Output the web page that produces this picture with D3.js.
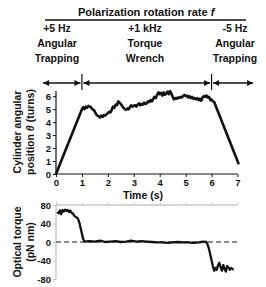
<!DOCTYPE html>
<html>
<head>
<meta charset="utf-8">
<script src="https://cdn.jsdelivr.net/npm/d3@7"></script>
<style>
  body { margin: 0; background: #fff; }
  text { font-family: "Liberation Sans", Arial, sans-serif; font-weight: bold; fill: #111; }
</style>
</head>
<body>
<svg id="chart" width="266" height="287"></svg>
<script>
// angular position trace (time s, turns)
const thetaTime = [0, 1.0, 1.05, 1.1, 1.15, 1.2, 1.25, 1.3, 1.35, 1.4, 1.45, 1.5, 1.55, 1.6, 1.65, 1.7, 1.75, 1.8, 1.85, 1.9, 1.95,
  2.0, 2.05, 2.1, 2.15, 2.2, 2.25, 2.3, 2.35, 2.4, 2.45, 2.5, 2.55, 2.6, 2.65, 2.7, 2.75, 2.8, 2.85, 2.9, 2.95,
  3.0, 3.05, 3.1, 3.15, 3.2, 3.25, 3.3, 3.35, 3.4, 3.45, 3.5, 3.55, 3.6, 3.65, 3.7, 3.75, 3.8, 3.85, 3.9, 3.95,
  4.0, 4.05, 4.1, 4.15, 4.2, 4.25, 4.3, 4.35, 4.4, 4.45, 4.5, 4.55, 4.6, 4.65, 4.7, 4.75, 4.8, 4.85, 4.9, 4.95,
  5.0, 5.05, 5.1, 5.15, 5.2, 5.25, 5.3, 5.35, 5.4, 5.45, 5.5, 5.55, 5.6, 5.65, 5.7, 5.75, 5.8, 5.85, 5.9, 5.95,
  6.0, 6.05, 6.1, 7.05];
const thetaTurns = [0, 5.0, 5.15, 5.0, 5.2, 5.1, 5.25, 5.2, 5.15, 5.0, 4.95, 4.8, 4.6, 4.5, 4.45, 4.35, 4.5, 4.4, 4.55, 4.5, 4.6,
  4.7, 4.8, 4.75, 4.95, 5.2, 5.1, 5.35, 5.3, 5.6, 5.5, 5.4, 5.25, 5.1, 5.0, 4.95, 5.05, 5.0, 5.15, 5.3, 5.2,
  5.25, 5.3, 5.2, 5.35, 5.45, 5.3, 5.4, 5.35, 5.5, 5.4, 5.45, 5.6, 5.55, 5.7, 5.6, 5.8, 5.95, 5.85, 6.1, 6.3,
  6.15, 6.25, 6.05, 6.3, 6.1, 6.2, 6.35, 6.15, 6.4, 6.2, 5.95, 5.75, 5.85, 5.8, 5.9, 5.85, 5.95, 5.9, 6.0, 6.1,
  6.0, 6.05, 5.9, 6.0, 5.85, 5.95, 5.8, 5.85, 5.75, 5.85, 5.7, 5.8, 5.65, 5.9, 6.0, 5.95, 6.05, 5.9, 5.95, 5.7,
  5.75, 5.6, 5.55, 0.75];

// optical torque trace (time s, pN nm)
const torqueTime = [0.05, 0.1, 0.15, 0.2, 0.25, 0.3, 0.35, 0.4, 0.45, 0.5, 0.55, 0.6, 0.65, 0.7, 0.75, 0.8, 0.85, 0.9, 0.95, 1.0, 1.05, 1.1,
  1.3, 1.5, 1.7, 1.9, 2.1, 2.3, 2.5, 2.7, 2.9, 3.1, 3.3, 3.5, 3.7, 3.9, 4.1, 4.3, 4.5, 4.7, 4.9, 5.1, 5.3, 5.5, 5.6, 5.7, 5.8,
  5.85, 5.9, 5.95, 6.0, 6.05, 6.1, 6.15, 6.2, 6.25, 6.3, 6.35, 6.4, 6.45, 6.5, 6.55, 6.6, 6.65, 6.7, 6.75, 6.8, 6.85];
const torqueValue = [65, 62, 68, 60, 69, 66, 70, 67, 69, 65, 68, 63, 62, 57, 55, 53, 50, 42, 30, 18, 6, 1,
  2, 1, 3, 0, 1, 2, 0, 1, 3, 1, 2, 1, 0, -1, -1, -2, -1, 0, -1, -1, -2, -1, 0, 1, 0,
  -6, -15, -27, -40, -52, -62, -56, -60, -50, -45, -55, -62, -50, -58, -64, -52, -55, -60, -56, -58, -60];

const tTicks = [0, 1, 2, 3, 4, 5, 6, 7];
const thetaTicks = [0, 1, 2, 3, 4, 5, 6];
const torqueTicks = [80, 40, 0, -40, -80];
const phases = [
  { rate: "+5 Hz", lines: ["Angular", "Trapping"], from: -0.5, to: 1 },
  { rate: "+1 kHz", lines: ["Torque", "Wrench"], from: 1, to: 6 },
  { rate: "-5 Hz", lines: ["Angular", "Trapping"], from: 6, to: 7.6 }
];

const svg = d3.select("#chart");

const x = d3.scaleLinear().domain([0, 7]).range([56, 237.5]);
const yTheta = d3.scaleLinear().domain([0, 6.4]).range([174, 91]);
const yTorque = d3.scaleLinear().domain([-80, 80]).range([279, 205]);
const fmt = d => String(d);

// header
const title = svg.append("text").attr("x", 78).attr("y", 16)
  .style("font-size", "11px");
title.append("tspan").text("Polarization rotation rate ");
title.append("tspan").style("font-style", "italic").text("f");
svg.append("line").attr("x1", 45).attr("x2", 246).attr("y1", 20).attr("y2", 20)
  .attr("stroke", "#111").attr("stroke-width", 1.4);

svg.append("defs").append("marker")
  .attr("id", "head").attr("viewBox", "0 0 10 10").attr("refX", 10).attr("refY", 5)
  .attr("markerWidth", 7).attr("markerHeight", 6).attr("markerUnits", "userSpaceOnUse")
  .attr("orient", "auto-start-reverse")
  .append("path").attr("d", "M0,0L10,5L0,10Z").attr("fill", "#111");

const labelX = [57, 145, 235];
phases.forEach((p, i) => {
  svg.append("text").attr("x", labelX[i]).attr("y", 32).attr("text-anchor", "middle")
    .style("font-size", "10.5px").text(p.rate);
  p.lines.forEach((l, j) => {
    svg.append("text").attr("x", labelX[i]).attr("y", 47 + j * 14.5).attr("text-anchor", "middle")
      .style("font-size", "10.5px").text(l);
  });
  const x1 = x(p.from) + (i > 0 ? 1.5 : 0), x2 = x(p.to) - (i < 2 ? 1.5 : 0);
  svg.append("line").attr("x1", x1).attr("x2", x2).attr("y1", 83).attr("y2", 83)
    .attr("stroke", "#111").attr("stroke-width", 1.3)
    .attr("marker-start", "url(#head)").attr("marker-end", "url(#head)");
});
[1, 6].forEach(t => {
  svg.append("line").attr("x1", x(t)).attr("x2", x(t)).attr("y1", 74).attr("y2", 90)
    .attr("stroke", "#111").attr("stroke-width", 1.2);
});

// top panel
const gx = svg.append("g").attr("transform", "translate(0,174)")
  .call(d3.axisBottom(x).tickValues(tTicks).tickFormat(fmt).tickSize(3).tickPadding(2));
const gy = svg.append("g").attr("transform", "translate(56,0)")
  .call(d3.axisLeft(yTheta).tickValues(thetaTicks).tickFormat(fmt).tickSize(3).tickPadding(2));
[gx, gy].forEach(g => {
  g.select(".domain").attr("stroke", "#111").attr("stroke-width", 1.2);
  g.selectAll(".tick line").attr("stroke", "#111");
  g.selectAll("text").style("font-size", "9.5px").style("font-family", "Liberation Sans, Arial, sans-serif").attr("fill", "#111");
});
gx.select(".domain").attr("d", "M56,0H237.5");
gy.select(".domain").attr("d", "M0,174V91");

svg.append("path")
  .datum(thetaTime.map((t, i) => [t, thetaTurns[i]]))
  .attr("fill", "none").attr("stroke", "#111").attr("stroke-width", 2.6).attr("stroke-linejoin", "round")
  .attr("d", d3.line().x(d => x(d[0])).y(d => yTheta(d[1])));

svg.append("text").attr("x", 143).attr("y", 199).attr("text-anchor", "middle")
  .style("font-size", "10.5px").text("Time (s)");
svg.append("text").attr("transform", "translate(21,132) rotate(-90)").attr("text-anchor", "middle")
  .style("font-size", "10.5px").text("Cylinder angular");
const pos = svg.append("text").attr("transform", "translate(34,132) rotate(-90)").attr("text-anchor", "middle")
  .style("font-size", "10.5px");
pos.append("tspan").text("position ");
pos.append("tspan").style("font-style", "italic").text("θ");
pos.append("tspan").text(" (turns)");

// bottom panel
const bx = svg.append("g").attr("transform", "translate(0,205)")
  .call(d3.axisTop(x).tickValues(tTicks).tickSize(3).tickFormat(""));
const by = svg.append("g").attr("transform", "translate(56,0)")
  .call(d3.axisLeft(yTorque).tickValues(torqueTicks).tickFormat(fmt).tickSize(3).tickPadding(2));
[bx, by].forEach(g => {
  g.select(".domain").attr("stroke", "#c8c8c8").attr("stroke-width", 1.4);
  g.selectAll(".tick line").attr("stroke", "#c8c8c8");
  g.selectAll("text").style("font-size", "9.5px").style("font-family", "Liberation Sans, Arial, sans-serif").attr("fill", "#111");
});
bx.select(".domain").attr("d", "M56,0H237.5");
by.select(".domain").attr("d", "M0,205V279");

svg.append("line").attr("x1", x(0)).attr("x2", 240).attr("y1", yTorque(0)).attr("y2", yTorque(0))
  .attr("stroke", "#666").attr("stroke-width", 1.4).attr("stroke-dasharray", "5,3");

svg.append("path")
  .datum(torqueTime.map((t, i) => [t, torqueValue[i]]))
  .attr("fill", "none").attr("stroke", "#111").attr("stroke-width", 2.3).attr("stroke-linejoin", "round")
  .attr("d", d3.line().x(d => x(d[0])).y(d => yTorque(d[1])));

svg.append("text").attr("transform", "translate(21,242) rotate(-90)").attr("text-anchor", "middle")
  .style("font-size", "10.5px").text("Optical torque");
svg.append("text").attr("transform", "translate(34,242) rotate(-90)").attr("text-anchor", "middle")
  .style("font-size", "10.5px").text("(pN nm)");
</script>
</body>
</html>
